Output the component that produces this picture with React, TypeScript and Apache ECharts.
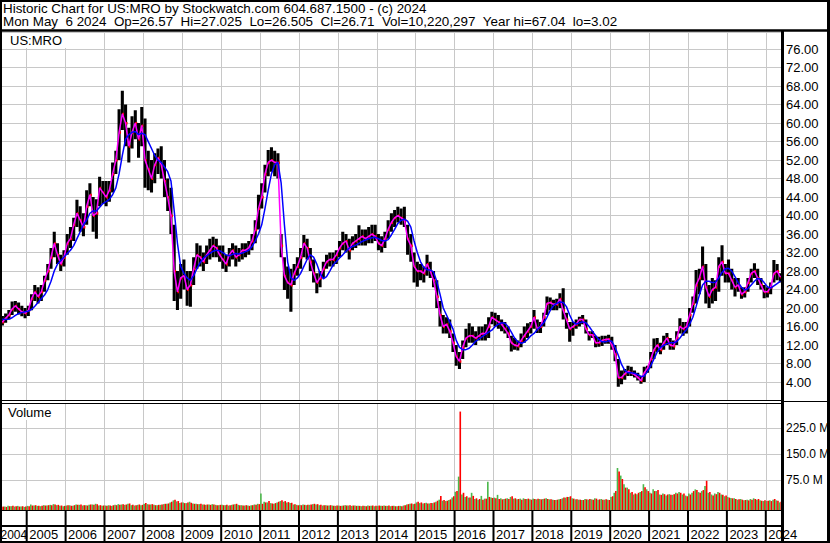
import React, { useEffect, useRef } from 'react';
import * as echarts from 'echarts';

// Monthly readings, April 2004 .. May 2024
const FIRST_YEAR = 2004;
const FIRST_MONTH = 4;

const CLOSE = [
  17.5, 17.0, 17.8, 18.5, 19.8, 20.5, 19.8, 19.2, 18.9,
  19.5, 22.0, 23.5, 22.5, 23.5, 26.0, 28.0, 31.0, 34.0, 31.5, 29.5, 31.0,
  34.0, 35.0, 38.0, 40.5, 39.0, 37.5, 42.0, 44.5, 40.0, 40.5, 46.0, 45.0,
  44.0, 45.5, 49.0, 52.0, 58.0, 62.0, 60.0, 55.0, 58.0, 60.0, 56.5, 59.5,
  52.0, 50.0, 48.0, 51.0, 52.5, 51.0, 47.5, 44.0, 40.0, 28.0, 23.5, 26.5,
  27.0, 24.0, 25.0, 28.5, 31.5, 31.0, 30.0, 31.5, 32.5, 33.5, 33.0, 31.5,
  30.5, 29.5, 31.5, 32.5, 31.0, 31.5, 32.5, 32.5, 33.0, 34.5, 37.0, 41.5,
  44.0, 49.0, 51.5, 52.0, 51.5, 51.5, 33.5, 27.0, 25.5, 25.0, 27.5, 29.0,
  31.0, 34.0, 33.0, 30.0, 27.5, 25.5, 26.5, 28.5, 30.0, 30.5, 30.5, 31.5,
  33.0, 34.0, 34.5, 32.5, 34.0, 34.5, 35.0, 35.5, 35.0, 35.5, 36.0, 35.5,
  34.0, 33.5, 35.0, 37.0, 38.5, 39.5, 40.0, 39.5, 39.0, 35.0, 33.5, 29.0,
  28.0, 28.0, 27.5, 29.5, 28.0, 26.0, 22.5, 18.5, 16.0, 16.5, 15.0, 12.5,
  9.5, 8.5, 11.5, 13.5, 14.0, 14.0, 13.5, 14.0, 14.5, 14.5, 16.0, 18.0,
  17.5, 17.0, 16.5, 15.5, 14.5, 12.5, 12.0, 11.8, 13.0, 14.0, 15.0, 16.0,
  18.0, 15.5, 16.0, 18.0, 21.0, 21.2, 20.8, 20.8, 22.0, 19.5, 17.5, 15.5,
  16.0, 16.5, 17.5, 17.5, 15.5, 14.2, 14.2, 12.5, 12.5, 13.0, 13.2, 13.3,
  12.0, 10.0, 5.0, 5.0, 5.8, 6.3, 6.0, 5.6, 5.0, 4.3, 6.0, 7.0,
  9.0, 11.0, 12.0, 11.0, 12.5, 13.5, 12.0, 11.8, 13.5, 16.0, 15.5, 16.0,
  18.5, 21.0, 25.0, 26.5, 29.0, 24.5, 22.5, 24.0, 24.5, 29.0, 30.0, 27.5,
  27.5, 26.0, 24.5, 25.0, 23.0, 23.5, 25.5, 27.5, 28.0, 26.5, 25.0, 23.5,
  23.5, 24.5, 27.5, 28.0, 26.7,
];

const HIGH = [
  18.8, 18.3, 18.8, 19.6, 21.4, 21.5, 21.2, 20.5, 20.0,
  20.5, 23.0, 25.0, 24.5, 25.0, 27.0, 29.5, 33.0, 36.5, 34.0, 31.5, 32.5,
  36.0, 37.5, 39.5, 43.4, 42.0, 40.5, 45.5, 47.0, 44.0, 43.5, 48.4, 47.5,
  47.5, 47.5, 51.5, 54.0, 63.0, 67.0, 64.0, 59.0, 61.5, 62.8, 60.0, 63.5,
  61.0, 54.0, 52.0, 53.5, 54.5, 55.0, 52.0, 48.0, 46.0, 38.0, 28.0, 29.5,
  30.5, 28.0, 28.0, 31.0, 34.0, 33.5, 32.0, 33.5, 35.0, 35.4, 35.0, 33.5,
  33.5, 31.5, 33.0, 34.0, 33.5, 33.0, 34.0, 34.0, 34.5, 36.0, 39.0, 44.5,
  47.0, 51.0, 54.2, 54.8, 54.0, 53.5, 36.0, 31.0, 29.0, 28.5, 29.5, 31.0,
  33.0, 35.8, 35.0, 33.0, 30.5, 27.5, 28.0, 30.0, 31.5, 32.0, 32.0, 32.5,
  34.5, 36.5, 36.0, 35.0, 35.5, 36.0, 37.9, 37.0, 37.0, 37.5, 38.0, 38.0,
  36.0, 35.5, 36.5, 39.0, 40.5, 41.2, 41.9, 41.5, 41.9, 38.0, 36.0, 32.0,
  30.0, 29.5, 29.0, 31.5, 30.0, 28.0, 26.0, 21.5, 18.5, 18.0, 17.5, 14.5,
  12.0, 10.5, 13.0, 15.5, 16.7, 16.0, 15.0, 16.0, 16.0, 16.5, 18.0, 19.2,
  19.0, 18.5, 17.5, 17.0, 16.0, 14.0, 13.5, 13.0, 14.5, 16.0, 16.7, 17.0,
  19.6, 17.5, 17.0, 19.0, 22.5, 22.3, 21.8, 22.0, 23.2, 24.3, 19.0, 17.0,
  17.0, 17.5, 18.1, 18.5, 17.5, 15.0, 15.0, 14.0, 13.8, 14.0, 14.0, 14.2,
  13.8, 12.0, 9.0, 6.5, 6.8, 7.5, 7.3, 6.5, 6.0, 5.3, 7.3, 7.5,
  10.5, 13.4, 13.5, 12.5, 14.0, 14.6, 13.5, 13.0, 15.0, 17.8, 17.0, 17.0,
  20.0, 22.5, 28.2, 28.5, 33.3, 29.5, 25.0, 26.5, 26.0, 31.0, 33.6, 29.5,
  30.5, 28.5, 26.5, 26.5, 24.5, 24.5, 26.5, 28.5, 29.7, 28.5, 26.5, 25.0,
  24.5, 25.5, 30.4, 29.5, 27.5,
];

const LOW = [
  16.3, 16.2, 16.8, 17.5, 18.5, 19.2, 18.6, 18.2, 17.8,
  18.3, 19.5, 21.5, 21.0, 21.5, 23.5, 26.0, 28.5, 31.0, 29.5, 28.0, 29.0,
  31.5, 33.0, 34.5, 37.5, 36.5, 35.5, 38.0, 42.0, 36.5, 35.0, 42.0, 42.5,
  42.0, 43.0, 45.0, 49.0, 52.0, 58.5, 55.0, 51.5, 54.5, 56.5, 52.5, 55.0,
  46.0, 45.5, 45.0, 47.0, 49.0, 48.0, 44.0, 41.0, 36.0, 21.5, 19.6, 22.0,
  24.0, 20.5, 20.3, 25.0, 28.5, 29.0, 28.0, 29.5, 30.5, 31.0, 31.0, 30.0,
  28.5, 27.8, 29.0, 30.5, 29.0, 30.0, 30.5, 31.0, 31.5, 32.5, 34.0, 37.0,
  41.5, 45.0, 48.5, 49.5, 48.5, 48.0, 31.0, 23.9, 22.0, 19.2, 25.0, 27.0,
  28.5, 31.0, 30.5, 28.0, 25.5, 23.2, 24.5, 26.5, 28.5, 29.0, 29.0, 29.5,
  31.0, 32.5, 32.0, 30.5, 32.5, 33.0, 33.5, 33.5, 33.5, 34.0, 34.0, 34.5,
  32.5, 32.0, 33.0, 35.0, 36.5, 37.5, 38.5, 38.0, 37.5, 31.5, 30.0, 25.5,
  24.6, 26.0, 25.5, 27.0, 26.5, 24.5, 20.0, 16.0, 14.5, 14.5, 13.5, 10.5,
  7.5, 6.8, 9.0, 11.5, 12.5, 12.5, 12.0, 13.0, 13.0, 13.0, 13.5, 16.5,
  16.0, 15.5, 15.0, 14.5, 13.5, 10.6, 11.0, 10.8, 11.5, 12.5, 13.5, 14.5,
  15.5, 14.6, 14.6, 16.0, 18.5, 19.5, 19.5, 19.5, 20.0, 17.5, 15.5, 12.7,
  14.0, 15.5, 16.0, 16.5, 14.5, 13.0, 13.5, 11.5, 11.6, 11.8, 12.3, 12.3,
  11.0, 8.5, 3.0, 3.5, 4.5, 5.3, 5.3, 5.0, 4.3, 3.6, 4.0, 6.0,
  7.0, 9.0, 10.5, 10.0, 11.0, 12.0, 11.0, 11.0, 12.0, 14.5, 14.0, 14.5,
  16.0, 19.0, 21.0, 23.0, 26.0, 21.0, 20.0, 21.0, 21.5, 23.5, 27.0, 25.5,
  25.5, 24.0, 22.5, 23.5, 22.0, 22.3, 23.5, 25.5, 26.5, 25.0, 24.0, 22.1,
  22.3, 23.0, 25.5, 26.0, 25.5,
];

const MA_LONG = [
  17.8, 17.6, 17.5, 17.6, 17.9, 18.4, 18.8, 19.0, 19.2,
  19.3, 19.7, 20.4, 21.2, 22.0, 22.8, 24.0, 25.8, 28.0, 29.5, 30.3, 31.0,
  31.8, 32.5, 33.5, 35.0, 36.5, 38.0, 39.0, 40.5, 41.0, 41.0, 41.8, 42.6,
  43.0, 43.5, 44.5, 46.0, 49.0, 53.0, 56.5, 57.5, 58.0, 58.2, 57.5, 57.8,
  57.5, 56.0, 54.5, 53.0, 52.0, 51.5, 50.5, 49.5, 47.5, 41.0, 34.0, 29.0,
  27.5, 26.5, 26.0, 27.0, 28.5, 29.8, 30.8, 31.3, 31.8, 32.3, 32.5, 32.4,
  32.0, 31.5, 31.3, 31.6, 31.8, 31.7, 31.9, 32.2, 32.5, 33.3, 34.5, 36.0,
  38.0, 41.5, 45.5, 49.0, 51.0, 51.5, 47.0, 38.0, 30.0, 26.5, 26.0, 26.5,
  27.5, 29.0, 30.5, 31.5, 31.0, 29.5, 27.5, 26.3, 26.8, 28.0, 29.3, 30.0,
  30.8, 31.5, 32.3, 33.0, 33.3, 33.6, 34.0, 34.4, 34.7, 35.0, 35.2, 35.3,
  35.0, 34.6, 34.5, 34.8, 35.8, 37.0, 38.3, 39.0, 39.2, 38.8, 37.5, 34.5,
  32.0, 30.0, 28.8, 28.3, 28.2, 27.8, 25.8, 23.0, 20.0, 18.5, 17.0, 15.5,
  13.0, 11.5, 11.0, 11.0, 11.3, 12.0, 12.8, 13.3, 13.8, 14.3, 14.8, 15.2,
  16.0, 16.5, 16.8, 16.7, 16.0, 14.8, 13.5, 12.7, 12.4, 12.6, 13.2, 14.0,
  14.5, 15.3, 16.0, 16.8, 18.0, 19.5, 20.5, 21.0, 21.3, 21.2, 20.3, 18.5,
  17.0, 16.5, 16.8, 17.0, 16.8, 16.0, 15.0, 14.0, 13.2, 12.7, 12.7, 12.9,
  12.8, 11.5, 9.8, 7.8, 6.5, 6.0, 6.0, 5.9, 5.6, 5.2, 5.3, 6.3,
  7.5, 9.0, 10.5, 11.5, 11.9, 12.3, 12.5, 12.5, 12.7, 13.5, 14.5, 15.3,
  16.5, 18.0, 20.3, 22.8, 25.0, 25.8, 25.8, 25.5, 25.6, 26.5, 27.7, 28.5,
  28.6, 28.0, 26.8, 25.5, 24.5, 23.9, 24.2, 25.0, 25.8, 26.4, 26.3, 25.5,
  24.6, 24.3, 24.8, 25.3, 25.8,
];

// Volume in millions (largest up-day / down-day bar of the month)
const VOL_UP = [
  10, 9, 10, 12, 11, 10, 12, 10, 9,
  12, 16, 13, 12, 11, 14, 13, 15, 17, 14, 12, 11,
  13, 14, 12, 16, 15, 13, 14, 15, 16, 18, 13, 12,
  13, 14, 12, 15, 17, 16, 15, 18, 14, 13, 15, 14,
  18, 17, 16, 15, 14, 15, 17, 18, 22, 28, 25, 20,
  22, 20, 24, 19, 18, 17, 16, 15, 16, 17, 15, 14,
  15, 14, 13, 15, 17, 15, 14, 13, 13, 14, 16, 18,
  48, 24, 22, 20, 18, 22, 26, 24, 22, 20, 16, 15,
  15, 16, 14, 15, 17, 16, 14, 13, 14, 13, 13, 12,
  13, 12, 14, 13, 12, 13, 12, 11, 12, 13, 12, 11,
  12, 12, 13, 12, 11, 12, 11, 12, 13, 16, 18, 17,
  22, 20, 19, 21, 19, 20, 24, 30, 27, 26, 29, 36,
  53, 97, 45, 38, 36, 50, 32, 30, 41, 33, 82, 36,
  36, 44, 34, 32, 34, 38, 33, 31, 33, 34, 32, 31,
  33, 31, 32, 32, 34, 31, 30, 29, 31, 34, 36, 38,
  34, 31, 30, 29, 32, 30, 31, 34, 30, 32, 30, 30,
  38, 50, 122, 100, 75, 65, 50, 45, 46, 52, 75, 60,
  50, 60, 55, 45, 48, 42, 46, 44, 50, 52, 45, 42,
  48, 50, 60, 52, 55, 70, 50, 45, 48, 52, 45, 40,
  38, 35, 34, 30, 32, 28, 30, 32, 34, 30, 28, 26,
  26, 28, 30, 28, 22,
];

const VOL_DOWN = [
  11, 10, 9, 11, 12, 11, 10, 11, 10,
  11, 13, 14, 12, 12, 13, 14, 14, 16, 15, 13, 12,
  14, 12, 14, 15, 16, 14, 13, 16, 15, 17, 14, 13,
  12, 13, 14, 14, 15, 17, 16, 19, 15, 14, 16, 15,
  20, 16, 17, 14, 15, 16, 18, 19, 24, 30, 26, 22,
  20, 22, 21, 18, 17, 18, 16, 16, 15, 16, 14, 15,
  14, 15, 14, 16, 18, 14, 13, 14, 12, 14, 15, 17,
  18, 22, 26, 19, 20, 24, 28, 26, 23, 21, 17, 14,
  14, 15, 15, 16, 18, 17, 15, 14, 13, 14, 12, 13,
  12, 13, 13, 14, 13, 12, 12, 12, 11, 12, 13, 12,
  13, 12, 12, 13, 12, 11, 12, 11, 14, 17, 19, 18,
  24, 22, 20, 19, 20, 22, 27, 41, 29, 27, 31, 40,
  55, 286, 50, 40, 36, 41, 34, 32, 30, 33, 38, 35,
  34, 32, 31, 33, 32, 40, 34, 32, 30, 32, 33, 30,
  32, 33, 31, 33, 32, 31, 29, 30, 32, 36, 38, 40,
  33, 31, 30, 29, 31, 32, 30, 33, 31, 30, 31, 29,
  40, 55, 112, 90, 65, 60, 52, 48, 50, 55, 66, 55,
  48, 55, 58, 44, 46, 45, 44, 46, 48, 50, 48, 40,
  45, 55, 58, 50, 58, 85, 52, 42, 46, 50, 44, 42,
  36, 34, 32, 31, 30, 29, 28, 30, 32, 32, 27, 28,
  27, 26, 32, 27, 24,
];

const YEARS = [2004, 2005, 2006, 2007, 2008, 2009, 2010, 2011, 2012, 2013, 2014,
  2015, 2016, 2017, 2018, 2019, 2020, 2021, 2022, 2023, 2024];

const VOL_LABELS = [75, 150, 225];
const VOL_LABEL_SHIFT = 12.2; // the original draws its volume grid a few pixels above the bar base

const HEADER_1 = 'Historic Chart for US:MRO by Stockwatch.com 604.687.1500 - (c) 2024';
const HEADER_2 = 'Mon May  6 2024  Op=26.57  Hi=27.025  Lo=26.505  Cl=26.71  Vol=10,220,297  Year hi=67.04  lo=3.02';
const SYMBOL = 'US:MRO';

const FONT = 'Liberation Sans, Arial, sans-serif';
const GRID_COLOR = '#c8c8c8';
const GREEN = '#4cb84c';
const RED = '#ff0000';

// visible time window (early April 2004 .. mid May 2024)
const X_MIN = 2004.3136;
const X_MAX = 2024.391;

function monthTime(i: number): number {
  const m = FIRST_MONTH - 1 + i;
  return FIRST_YEAR + m / 12 + 1 / 24;
}

function keepSpaces(s: string): string {
  return s.replace(/ /g, '\u00a0');
}

export default function App() {
  const ref = useRef<HTMLDivElement>(null);

  useEffect(() => {
    document.body.style.margin = '0';
    if (!ref.current) return;
    const chart = echarts.init(ref.current, null, { renderer: 'svg' });

    const priceData = CLOSE.map((c, i) => [monthTime(i), HIGH[i], LOW[i], c]);
    const closeLine = CLOSE.map((c, i) => [monthTime(i), c]);
    const maLine = MA_LONG.map((v, i) => [monthTime(i), v]);
    const volData = VOL_UP.map((u, i) => [monthTime(i), u, VOL_DOWN[i]]);
    const yearLines = YEARS.slice(1).map((y) => ({ xAxis: y }));

    const xAxisBase = {
      type: 'value',
      min: X_MIN,
      max: X_MAX,
      axisLine: { show: false },
      axisTick: { show: false },
      axisLabel: { show: false },
      splitLine: { show: false },
    };

    const gridMark = (extra: any[]) => ({
      silent: true,
      symbol: ['none', 'none'],
      z: 1,
      label: { show: false },
      emphasis: { disabled: true },
      lineStyle: { color: GRID_COLOR, width: 1, type: 'solid' },
      data: [...yearLines, ...extra],
    });

    chart.setOption({
      animation: false,
      backgroundColor: '#ffffff',
      grid: [
        { left: 0, top: 32, width: 781, height: 368.5, show: false, outerBoundsMode: 'none', containLabel: false },
        { left: 0, top: 404, width: 781, height: 106, show: false, outerBoundsMode: 'none', containLabel: false },
      ],
      xAxis: [
        { ...xAxisBase, gridIndex: 0 },
        { ...xAxisBase, gridIndex: 1 },
      ],
      yAxis: [
        {
          type: 'value',
          gridIndex: 0,
          min: 0,
          max: 79.7,
          interval: 4,
          position: 'right',
          axisLine: { show: false },
          axisTick: { show: false },
          axisLabel: {
            show: true,
            margin: 5,
            color: '#000',
            fontSize: 13,
            fontFamily: FONT,
            padding: [0, 0, 4, 0],
            formatter: (v: number) => (v > 0 && Math.abs(v / 4 - Math.round(v / 4)) < 1e-6 ? v.toFixed(2) : ''),
          },
          splitLine: { show: true, lineStyle: { color: GRID_COLOR, width: 1 } },
        },
        {
          type: 'value',
          gridIndex: 1,
          min: 0,
          max: 308,
          position: 'right',
          axisLine: { show: false },
          axisTick: { show: false },
          splitLine: { show: false },
          axisLabel: {
            show: true,
            margin: 5,
            color: '#000',
            fontSize: 12,
            fontFamily: FONT,
            customValues: VOL_LABELS.map((v) => v + VOL_LABEL_SHIFT),
            formatter: (v: number) => (v - VOL_LABEL_SHIFT).toFixed(1) + ' M',
          },
        },
      ],
      series: [
        {
          type: 'line',
          name: 'pricegrid',
          xAxisIndex: 0,
          yAxisIndex: 0,
          data: [],
          z: 1,
          silent: true,
          markLine: gridMark([]),
        },
        {
          type: 'custom',
          name: 'range',
          xAxisIndex: 0,
          yAxisIndex: 0,
          clip: true,
          z: 2,
          data: priceData,
          encode: { x: 0, y: [1, 2] },
          renderItem: (params: any, api: any) => {
            const t = api.value(0);
            const hi = api.coord([t, api.value(1)]);
            const lo = api.coord([t, api.value(2)]);
            const cl = api.coord([t, api.value(3)]);
            const w = api.size([1 / 12, 0])[0];
            const bw = w * 0.95;
            return {
              type: 'group',
              children: [
                {
                  type: 'rect',
                  shape: { x: hi[0] - bw / 2, y: hi[1], width: bw, height: Math.max(1, lo[1] - hi[1]) },
                  style: { fill: '#000' },
                },
                {
                  type: 'rect',
                  shape: { x: cl[0] + bw / 2 - 1.6, y: cl[1] - 1, width: 2, height: 2.5 },
                  style: { fill: RED },
                },
              ],
            };
          },
        },
        {
          type: 'line',
          name: 'short',
          xAxisIndex: 0,
          yAxisIndex: 0,
          data: closeLine,
          showSymbol: false,
          symbol: 'none',
          z: 3,
          lineStyle: { color: '#ff00ff', width: 1.5 },
        },
        {
          type: 'line',
          name: 'long',
          xAxisIndex: 0,
          yAxisIndex: 0,
          data: maLine,
          showSymbol: false,
          symbol: 'none',
          z: 4,
          lineStyle: { color: '#0000ff', width: 1.5 },
        },
        {
          type: 'line',
          name: 'volgrid',
          xAxisIndex: 1,
          yAxisIndex: 1,
          data: [],
          z: 1,
          silent: true,
          markLine: gridMark(VOL_LABELS.map((v) => ({ yAxis: v + VOL_LABEL_SHIFT }))),
        },
        {
          type: 'custom',
          name: 'volume',
          xAxisIndex: 1,
          yAxisIndex: 1,
          clip: true,
          z: 2,
          data: volData,
          encode: { x: 0, y: [1, 2] },
          renderItem: (params: any, api: any) => {
            const t = api.value(0);
            const base = api.coord([t, 0]);
            const up = api.coord([t, api.value(1)]);
            const dn = api.coord([t, api.value(2)]);
            const w = api.size([1 / 12, 0])[0];
            return {
              type: 'group',
              children: [
                {
                  type: 'rect',
                  shape: { x: base[0] - w / 2, y: up[1], width: w / 2, height: base[1] - up[1] },
                  style: { fill: GREEN },
                },
                {
                  type: 'rect',
                  shape: { x: base[0], y: dn[1], width: w / 2, height: base[1] - dn[1] },
                  style: { fill: RED },
                },
              ],
            };
          },
        },
      ],
    });

    const xs = YEARS.map((y) => chart.convertToPixel({ xAxisIndex: 0 }, y) as number);
    const elements: any[] = [];

    const txt = (x: number, y: number, text: string, size: number, align: string, valign: string, extra: any = {}) => ({
      type: 'text', x, y, z: 100,
      style: {
        text, fontSize: size, fontFamily: FONT, fill: '#000',
        textAlign: align, textVerticalAlign: valign, align, verticalAlign: valign, ...extra,
      },
    });

    // header
    elements.push(txt(3, 8, keepSpaces(HEADER_1), 13.4, 'left', 'middle'));
    elements.push(txt(3, 21.5, keepSpaces(HEADER_2), 13.4, 'left', 'middle'));

    // panel labels
    elements.push(txt(2, 33, SYMBOL, 13, 'left', 'top', { backgroundColor: '#fff', padding: [1, 4, 1, 8] }));
    elements.push(txt(2, 405, 'Volume', 13, 'left', 'top', { backgroundColor: '#fff', padding: [1, 4, 1, 6] }));

    // year labels
    YEARS.forEach((y, i) => {
      if (i === 0) {
        elements.push(txt(0.5, 534.5, String(y), 12, 'left', 'middle'));
      } else {
        elements.push(txt(xs[i] + 2.5, 534.5, String(y), 13, 'left', 'middle'));
      }
    });

    // year separators under the volume panel
    xs.forEach((x, i) => {
      if (i === 0) return;
      elements.push({
        type: 'line', z: 101,
        shape: { x1: x, y1: 510, x2: x, y2: 542 },
        style: { stroke: '#000', lineWidth: 2 },
      });
    });

    const hline = (x1: number, x2: number, y: number, w: number) => ({
      type: 'line', z: 102, shape: { x1, y1: y, x2, y2: y }, style: { stroke: '#000', lineWidth: w },
    });

    elements.push(hline(0, 830, 30.5, 2.5));
    elements.push(hline(0, 782, 400.5, 1));
    elements.push(hline(0, 782, 403.5, 1));
    elements.push(hline(782, 830, 401.5, 1));
    elements.push(hline(0, 782, 510.5, 1));
    elements.push(hline(0, 782, 526, 2));
    elements.push({
      type: 'line', z: 103, shape: { x1: 782.5, y1: 30, x2: 782.5, y2: 543 },
      style: { stroke: '#000', lineWidth: 3 },
    });
    elements.push({
      type: 'rect', z: 103, shape: { x: 1, y: 1, width: 827.5, height: 541 },
      style: { fill: 'none', stroke: '#000', lineWidth: 2 },
    });
    elements.push({
      type: 'line', z: 103, shape: { x1: 828.5, y1: 0, x2: 828.5, y2: 543 },
      style: { stroke: '#000', lineWidth: 3 },
    });

    chart.setOption({ graphic: { elements } });

    return () => chart.dispose();
  }, []);

  return <div ref={ref} style={{ width: 830, height: 543, background: '#fff' }} />;
}
